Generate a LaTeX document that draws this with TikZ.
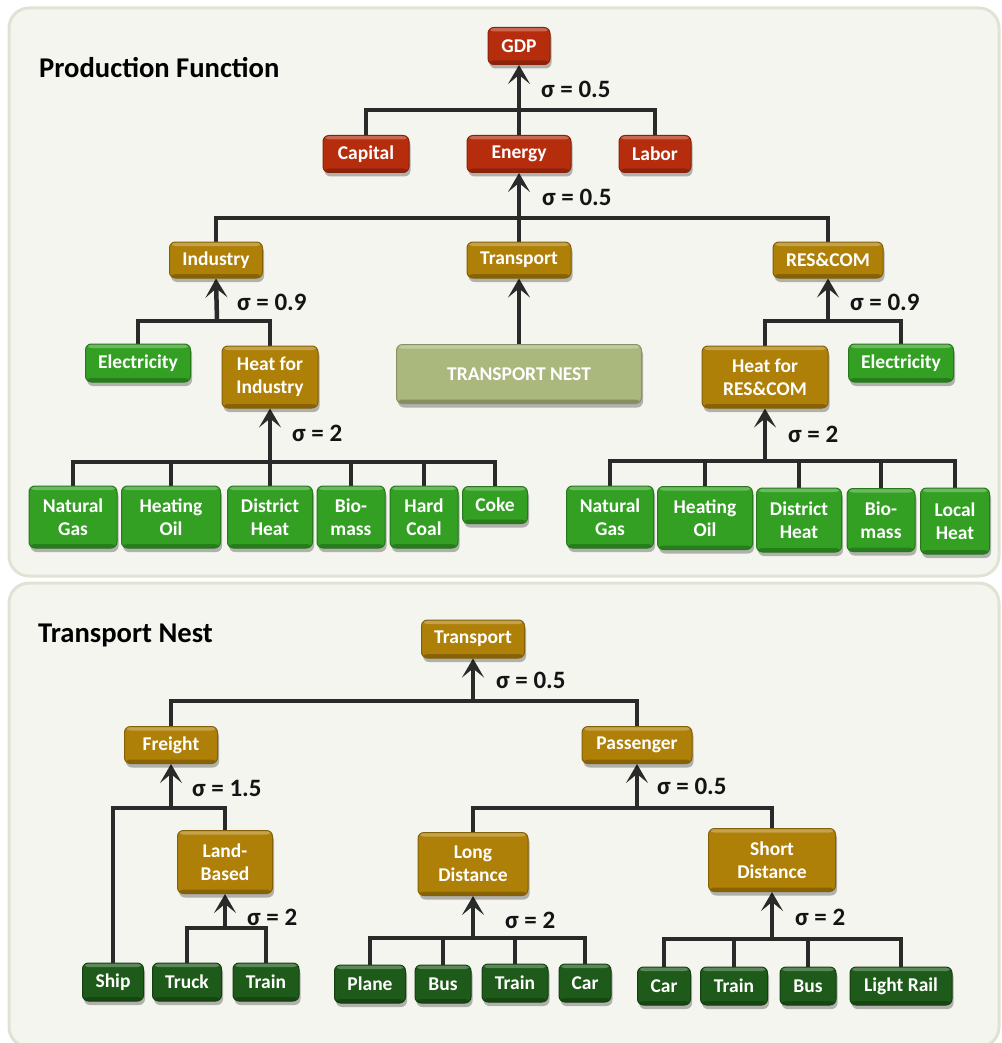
\documentclass[tikz,border=0pt]{standalone}
\usepackage{fontspec}
\setmainfont{Carlito}
\usetikzlibrary{arrows.meta,shadows}
\pgfdeclarelayer{bg}
\pgfdeclarelayer{lines}
\pgfsetlayers{bg,lines,main}
\newcommand\boxfont{\fontsize{19.5}{23}\selectfont\bfseries}
\newcommand\sigfont{\fontsize{25}{28}\selectfont\bfseries}
\newcommand\titfont{\fontsize{28.6}{32}\selectfont\bfseries}
\definecolor{cred}{HTML}{B62D0D}
\definecolor{cgold}{HTML}{AF8008}
\definecolor{cgreen}{HTML}{33A024}
\definecolor{cdgreen}{HTML}{1E5A19}
\definecolor{colive}{HTML}{AAB77D}
\definecolor{panelfill}{HTML}{F4F5EF}
\definecolor{panelline}{HTML}{E0E3D4}
\definecolor{linec}{HTML}{2A2A2A}
\tikzset{
  x=1pt, y=-1pt,
  panel/.style={fill=panelfill, draw=panelline, line width=3pt, rounded corners=20pt},
  box/.style={rounded corners=6pt, inner sep=0pt, text=white, font=\boxfont, align=center,
    line width=1pt,
    drop shadow={shadow xshift=1.5pt, shadow yshift=-4pt, fill=black, opacity=0.28},
    path picture={
      \fill[white,opacity=0.28] (path picture bounding box.north west) rectangle ([yshift=-4pt]path picture bounding box.north east);
      \fill[black,opacity=0.22] (path picture bounding box.south west) rectangle ([yshift=4pt]path picture bounding box.south east);
    }},
  redbox/.style={box, fill=cred, draw=cred!75!black},
  goldbox/.style={box, fill=cgold, draw=cgold!75!black},
  greenbox/.style={box, fill=cgreen, draw=cgreen!75!black},
  dgreenbox/.style={box, fill=cdgreen, draw=cdgreen!70!black},
  olivebox/.style={box, fill=colive, draw=colive!80!black},
  conn/.style={draw=linec, line width=4.5pt},
  arr/.style={conn, -{Stealth[length=19pt,width=22pt,inset=9pt]}},
  sig/.style={font=\sigfont, text=black!92, inner sep=0pt, anchor=west},
  tit/.style={font=\titfont, text=black, inner sep=0pt, anchor=west},
}
\begin{document}
\begin{tikzpicture}
\useasboundingbox (0,0) rectangle (1001,1043);
\begin{pgfonlayer}{bg}
  \path[panel] (9,8) rectangle (999,576);
  \path[panel] (9,583) rectangle (999,1047);
\end{pgfonlayer}

\node[tit] (t1) at (39,68) {Production Function};
\node[tit] (t2) at (38,635) {Transport Nest};

% ---------- production function ----------
\node[redbox, minimum width=62, minimum height=37] (gdp) at (519,46) {GDP};
\node[redbox, minimum width=86, minimum height=37] (cap) at (366,154) {Capital};
\node[redbox, minimum width=104, minimum height=37] (en) at (519,154) {Energy};
\node[redbox, minimum width=72, minimum height=37] (lab) at (655,154) {Labor};
\node[goldbox, minimum width=93, minimum height=36] (ind) at (216,260) {Industry};
\node[goldbox, minimum width=104, minimum height=36] (tr) at (519,260) {Transport};
\node[goldbox, minimum width=110, minimum height=36] (rc) at (828,260) {RES\&COM};
\node[greenbox, minimum width=105, minimum height=38] (elL) at (138,363) {Electricity};
\node[goldbox, minimum width=96, minimum height=62] (hi) at (270,377) {Heat for\\Industry};
\node[olivebox, minimum width=245, minimum height=59] (tn) at (519,374) {TRANSPORT NEST};
\node[goldbox, minimum width=126, minimum height=62] (hr) at (765,377) {Heat for\\RES\&COM};
\node[greenbox, minimum width=105, minimum height=38] (elR) at (901,363) {Electricity};

\node[greenbox, minimum width=88, minimum height=62] (ngL) at (73,517) {Natural\\Gas};
\node[greenbox, minimum width=99, minimum height=62] (hoL) at (171,517) {Heating\\Oil};
\node[greenbox, minimum width=85, minimum height=62] (dhL) at (270,517) {District\\Heat};
\node[greenbox, minimum width=68, minimum height=62] (bmL) at (351,517) {Bio-\\mass};
\node[greenbox, minimum width=68, minimum height=62] (hcL) at (424,517) {Hard\\Coal};
\node[greenbox, minimum width=65, minimum height=37] (coke) at (495,505) {Coke};

\node[greenbox, minimum width=87, minimum height=62] (ngR) at (610,517) {Natural\\Gas};
\node[greenbox, minimum width=95, minimum height=63] (hoR) at (705,518) {Heating\\Oil};
\node[greenbox, minimum width=85, minimum height=64] (dhR) at (799,520) {District\\Heat};
\node[greenbox, minimum width=68, minimum height=63] (bmR) at (881,520) {Bio-\\mass};
\node[greenbox, minimum width=69, minimum height=66] (lhR) at (955,521) {Local\\Heat};

\coordinate (j1) at (519,110);
\coordinate (j2) at (519,218);
\coordinate (j3) at (217,321);
\coordinate (j4) at (828,321);
\coordinate (j5) at (270,462);
\coordinate (j6) at (765,461);

\node[sig] (s1) at (541,89) {σ = 0.5};
\node[sig] (s2) at (542,197) {σ = 0.5};
\node[sig] (s3) at (237,302) {σ = 0.9};
\node[sig] (s4) at (850,302) {σ = 0.9};
\node[sig] (s5) at (292,433) {σ = 2};
\node[sig] (s6) at (788,434) {σ = 2};

% ---------- transport nest ----------
\node[goldbox, minimum width=103, minimum height=38] (tr2) at (473,639) {Transport};
\node[goldbox, minimum width=93, minimum height=37] (fr) at (171,745) {Freight};
\node[goldbox, minimum width=110, minimum height=37] (pa) at (637,745) {Passenger};
\node[goldbox, minimum width=95, minimum height=63] (lb) at (225,862) {Land-\\Based};
\node[goldbox, minimum width=110, minimum height=63] (ld) at (473,864) {Long\\Distance};
\node[goldbox, minimum width=127, minimum height=63] (sd) at (772,860) {Short\\Distance};

\node[dgreenbox, minimum width=61, minimum height=38] (ship) at (113,982) {Ship};
\node[dgreenbox, minimum width=69, minimum height=38] (truck) at (187,982) {Truck};
\node[dgreenbox, minimum width=66, minimum height=38] (train1) at (266,982) {Train};
\node[dgreenbox, minimum width=71, minimum height=38] (plane) at (370,984) {Plane};
\node[dgreenbox, minimum width=56, minimum height=38] (bus1) at (443,984) {Bus};
\node[dgreenbox, minimum width=66, minimum height=38] (train2) at (515,983) {Train};
\node[dgreenbox, minimum width=52, minimum height=38] (car1) at (585,983) {Car};
\node[dgreenbox, minimum width=53, minimum height=38] (car2) at (664,986) {Car};
\node[dgreenbox, minimum width=67, minimum height=38] (train3) at (734,986) {Train};
\node[dgreenbox, minimum width=56, minimum height=38] (bus2) at (808,986) {Bus};
\node[dgreenbox, minimum width=102, minimum height=38] (lr) at (901,986) {Light Rail};

\coordinate (j7) at (473,701);
\coordinate (j8) at (171,808);
\coordinate (j9) at (225,928);
\coordinate (j10) at (637,808);
\coordinate (j11) at (473,938);
\coordinate (j12) at (772,939);

\node[sig] (s7) at (496,680) {σ = 0.5};
\node[sig] (s8) at (192,788) {σ = 1.5};
\node[sig] (s9) at (247,917) {σ = 2};
\node[sig] (s10) at (657,786) {σ = 0.5};
\node[sig] (s11) at (505,920) {σ = 2};
\node[sig] (s12) at (795,917) {σ = 2};

\begin{pgfonlayer}{lines}
  % production function
  \draw[conn] (cap.north) |- (j1) -| (lab.north);
  \draw[arr] (en.north) -- (gdp.south);
  \draw[conn] (ind.north) |- (j2) -| (rc.north);
  \draw[arr] (tr.north) -- (en.south);
  \draw[conn] (elL.north) |- (j3) -| (hi.north);
  \draw[arr] (j3) -- (ind.south);
  \draw[conn] (hr.north) |- (j4) -| (elR.north);
  \draw[arr] (j4) -- (rc.south);
  \draw[arr] (tn.north) -- (tr.south);
  \draw[conn] (ngL.north) |- (j5) -| (coke.north);
  \draw[conn] (hoL.north) -- (hoL.north |- j5);
  \draw[conn] (bmL.north) -- (bmL.north |- j5);
  \draw[conn] (hcL.north) -- (hcL.north |- j5);
  \draw[arr] (dhL.north) -- (hi.south);
  \draw[conn] (ngR.north) |- (j6) -| (lhR.north);
  \draw[conn] (hoR.north) -- (hoR.north |- j6);
  \draw[conn] (dhR.north) -- (dhR.north |- j6);
  \draw[conn] (bmR.north) -- (bmR.north |- j6);
  \draw[arr] (j6) -- (hr.south);
  % transport nest
  \draw[conn] (fr.north) |- (j7) -| (pa.north);
  \draw[arr] (j7) -- (tr2.south);
  \draw[conn] (ship.north) |- (j8) -| (lb.north);
  \draw[arr] (j8) -- (fr.south);
  \draw[conn] (truck.north) |- (j9) -| (train1.north);
  \draw[arr] (j9) -- (lb.south);
  \draw[conn] (ld.north) |- (j10) -| (sd.north);
  \draw[arr] (j10) -- (pa.south);
  \draw[conn] (plane.north) |- (j11) -| (car1.north);
  \draw[conn] (bus1.north) -- (bus1.north |- j11);
  \draw[conn] (train2.north) -- (train2.north |- j11);
  \draw[arr] (j11) -- (ld.south);
  \draw[conn] (car2.north) |- (j12) -| (lr.north);
  \draw[conn] (train3.north) -- (train3.north |- j12);
  \draw[conn] (bus2.north) -- (bus2.north |- j12);
  \draw[arr] (j12) -- (sd.south);
\end{pgfonlayer}
\end{tikzpicture}
\end{document}
